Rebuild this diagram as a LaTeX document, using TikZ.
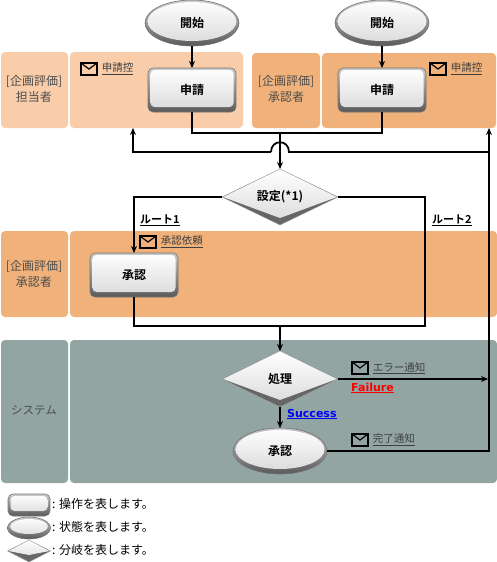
\documentclass[tikz,border=0pt]{standalone}
\usepackage{fontspec}
\setmainfont{Noto Sans CJK JP}[BoldFont={Noto Sans CJK JP Bold}]
\newfontfamily\latinbold{DejaVu Sans}[BoldFont={DejaVu Sans Bold}]
\usetikzlibrary{arrows.meta, calc, positioning, shapes.geometric}
\definecolor{bandlight}{HTML}{F9CDAA}
\definecolor{bandorange}{HTML}{F0B27A}
\definecolor{bandgray}{HTML}{92A5A3}
\begin{document}
\begin{tikzpicture}[
    x=1pt, y=-1pt,
    band/.style={rounded corners=4pt, draw=none},
    lanelabel/.style={align=center, font=\fontsize{12}{16}\selectfont, text=black!70},
    opbox/.style={rectangle, rounded corners=5pt, draw=black!55, line width=.6pt, top color=black!20, bottom color=black!65, minimum width=88pt, minimum height=44pt, inner sep=0pt, outer sep=0pt, font=\fontsize{12}{14}\selectfont\bfseries,
        path picture={\shade[top color=white, bottom color=black!15, rounded corners=4pt] ([shift={(2.5pt,5pt)}]path picture bounding box.south west) rectangle ([shift={(-2.5pt,-2pt)}]path picture bounding box.north east);}},
    statenode/.style={ellipse, draw=black!55, line width=.6pt, top color=black!20, bottom color=black!65, minimum width=94pt, minimum height=46pt, inner sep=0pt, outer sep=0pt, font=\fontsize{12}{14}\selectfont\bfseries,
        path picture={\shade[top color=white, bottom color=black!15] let \p1=($(path picture bounding box.north east)-(path picture bounding box.center)$) in ([yshift=1.5pt]path picture bounding box.center) ellipse [x radius=\x1-2.5pt, y radius=\y1-3.5pt];}},
    branchnode/.style={diamond, aspect=2, draw=black!35, line width=.4pt, fill=black!60, minimum width=116pt, minimum height=56pt, inner sep=0pt, outer sep=0pt, font=\fontsize{12}{14}\selectfont\bfseries,
        path picture={\shade[top color=white, bottom color=black!15] ([xshift=1pt]path picture bounding box.west) -- (path picture bounding box.north) -- ([xshift=-1pt]path picture bounding box.east) -- ([yshift=7pt]path picture bounding box.south) -- cycle;}},
    mailicon/.style={rectangle, draw=black, line width=1.2pt, minimum width=16pt, minimum height=12pt, inner sep=0pt,
        path picture={\draw[line width=1.2pt] (path picture bounding box.north west) -- (path picture bounding box.center) -- (path picture bounding box.north east);}},
    maillabel/.style={inner sep=0pt, font=\fontsize{10.5}{12}\selectfont, text=black!75},
    routelabel/.style={inner sep=0pt, font=\fontsize{11}{13}\selectfont\bfseries},
    legendlabel/.style={inner sep=0pt, font=\fontsize{12}{14}\selectfont},
    dep/.style={-{Stealth[length=7pt, width=6pt]}, line width=1.8pt},
    wire/.style={line width=1.8pt}
]
    \useasboundingbox (0,0) rectangle (497,562);

    % lanes
    \fill[band, bandlight] (1,52) rectangle (68,128);
    \fill[band, bandlight] (70,52) rectangle (243,128);
    \fill[band, bandorange] (252,53) rectangle (320,128);
    \fill[band, bandorange] (322,53) rectangle (496,128);
    \fill[band, bandorange] (1,231) rectangle (68,317);
    \fill[band, bandorange] (70,231) rectangle (497,317);
    \fill[band, bandgray] (1,340) rectangle (68,483);
    \fill[band, bandgray] (70,340) rectangle (497,483);

    \node[lanelabel] (laneapplicant) at (34,89) {[企画評価]\\担当者};
    \node[lanelabel] (laneapprover) at (286,89) {[企画評価]\\承認者};
    \node[lanelabel] (lanesecond) at (34,274) {[企画評価]\\承認者};
    \node[lanelabel, font=\fontsize{11.5}{14}\selectfont] (lanesystem) at (34,410) {システム};

    % flow
    \node[statenode] (startleft) at (192,23) {開始};
    \node[statenode] (startright) at (382,23) {開始};
    \node[opbox, below=22pt of startleft] (applyleft) {申請};
    \node[opbox, below=22pt of startright] (applyright) {申請};
    \node[branchnode] (setting) at (280,197) {設定(*1)};
    \node[opbox] (approve) at (134,275) {承認};
    \node[branchnode] (process) at (280,379) {処理};
    \node[statenode] (done) at (280,451) {承認};

    \coordinate (merge) at (280,133);
    \coordinate (backleft) at (133,152);
    \coordinate (jumpleft) at (271,152);
    \coordinate (jumpright) at (289,152);
    \coordinate (backright) at (489,152);
    \coordinate (paneleft) at (133,128);
    \coordinate (paneright) at (489,128);
    \coordinate (join) at (280,326);
    \coordinate (routecorner) at (425,326);
    \coordinate (failend) at (488,379);

    \draw[dep] (startleft) -- (applyleft);
    \draw[dep] (startright) -- (applyright);
    \draw[wire] (applyleft.south) |- (merge) -| (applyright.south);
    \draw[dep] (merge) -- (setting.north);
    \draw[dep] (jumpleft) -- (backleft) -- (paneleft);
    \draw[wire] (jumpleft) .. controls +(0,-13) and +(0,-13) .. (jumpright) -- (backright);
    \draw[dep] (done.east) -| (paneright);
    \draw[dep] (setting.west) -| (approve.north);
    \draw[wire] (approve.south) |- (routecorner) |- (setting.east);
    \draw[dep] (join) -- (process.north);
    \draw[dep] (process.east) -- (failend);
    \draw[dep] (process.south) -- (done.north);

    % mail
    \node[mailicon] (mailapplicant) at (89,69) {};
    \node[maillabel, right=4pt of mailapplicant] (textapplicant) {\underline{申請控}};
    \node[mailicon] (mailapprover) at (438,69) {};
    \node[maillabel, right=4pt of mailapprover] (textapprover) {\underline{申請控}};
    \node[mailicon] (mailrequest) at (148,242) {};
    \node[maillabel, right=4pt of mailrequest] (textrequest) {\underline{承認依頼}};
    \node[mailicon] (mailerror) at (360,368) {};
    \node[maillabel, right=4pt of mailerror] (texterror) {\underline{エラー通知}};
    \node[mailicon] (maildone) at (360,440) {};
    \node[maillabel, right=4pt of maildone] (textdone) {\underline{完了通知}};

    \node[routelabel, anchor=west] (routeone) at (140,220) {\underline{ルート1}};
    \node[routelabel, anchor=west] (routetwo) at (432,220) {\underline{ルート2}};
    \node[inner sep=0pt, anchor=west, font=\fontsize{11}{13}\selectfont\latinbold\bfseries, text=red] (failure) at (351,388) {\underline{Failure}};
    \node[inner sep=0pt, anchor=west, font=\fontsize{11}{13}\selectfont\latinbold\bfseries, text=blue] (success) at (287,414) {\underline{Success}};

    % legend
    \node[opbox, minimum width=42pt, minimum height=22pt] (legendop) at (29,505) {};
    \node[statenode, minimum width=43pt, minimum height=22pt] (legendstate) at (29,528) {};
    \node[branchnode, minimum width=43pt, minimum height=22pt] (legendbranch) at (29,551) {};
    \node[legendlabel, anchor=west] (legendoptext) at (52,504) {: 操作を表します。};
    \node[legendlabel, anchor=west] (legendstatetext) at (52,527) {: 状態を表します。};
    \node[legendlabel, anchor=west] (legendbranchtext) at (52,550) {: 分岐を表します。};
\end{tikzpicture}
\end{document}
